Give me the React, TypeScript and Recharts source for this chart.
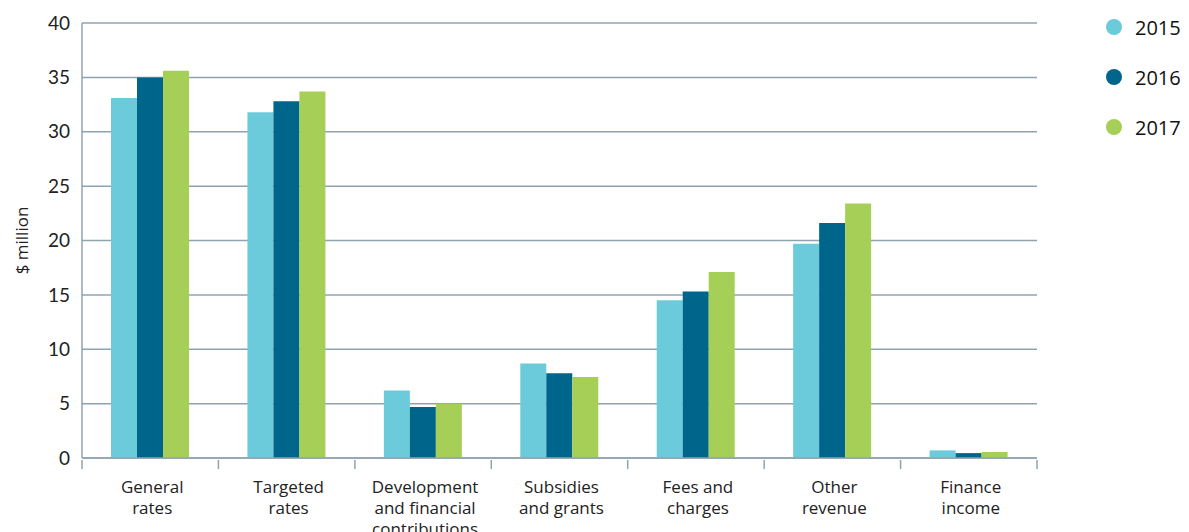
import { BarChart, Bar, XAxis, YAxis, CartesianGrid, Legend, Label } from "recharts";

const categories = [
  "General\nrates",
  "Targeted\nrates",
  "Development\nand financial\ncontributions",
  "Subsidies\nand grants",
  "Fees and\ncharges",
  "Other\nrevenue",
  "Finance\nincome",
];
const values2015 = [33.1, 31.8, 6.2, 8.7, 14.5, 19.7, 0.7];
const values2016 = [35.0, 32.8, 4.7, 7.8, 15.3, 21.6, 0.45];
const values2017 = [35.6, 33.7, 5.0, 7.45, 17.1, 23.4, 0.55];
const yTicks = [0, 5, 10, 15, 20, 25, 30, 35, 40];

const series = [
  { key: "2015", color: "#6ccbdb", values: values2015 },
  { key: "2016", color: "#00658a", values: values2016 },
  { key: "2017", color: "#a6cf57", values: values2017 },
];

const data = categories.map((name, i) => {
  const row: Record<string, string | number> = { name };
  series.forEach((s) => (row[s.key] = s.values[i]));
  return row;
});

const W = 1181;
const H = 524;
const margin = { top: 15, right: 152, bottom: 0, left: 20 };
const yAxisWidth = 54;
const band = (W - margin.left - margin.right - yAxisWidth) / categories.length;
const gridColor = "#8fa3af";
const font = "Lato, 'Noto Sans', sans-serif";
const labelFont = "'Open Sans', 'Noto Sans', sans-serif";

const CategoryTick = (props: any) => {
  const { x, y, payload, index } = props;
  const lines = String(payload.value).split("\n");
  return (
    <g>
      <line x1={x - band / 2} x2={x - band / 2} y1={y} y2={y + 9} stroke={gridColor} strokeWidth={1.5} />
      {index === categories.length - 1 && (
        <line x1={x + band / 2} x2={x + band / 2} y1={y} y2={y + 9} stroke={gridColor} strokeWidth={1.5} />
      )}
      <text x={x + 2} y={y + 33} textAnchor="middle" fontSize={17} fill="#222" fontFamily={labelFont}>
        {lines.map((l, i) => (
          <tspan key={i} x={x + 2} dy={i === 0 ? 0 : 21}>
            {l}
          </tspan>
        ))}
      </text>
    </g>
  );
};

const YLabel = (props: any) => {
  const vb = props.viewBox || { x: 20, y: 15, width: 54, height: 435 };
  const cx = vb.x - 7;
  const cy = vb.y + vb.height / 2;
  return (
    <text
      x={cx}
      y={cy}
      transform={`rotate(-90 ${cx} ${cy})`}
      textAnchor="middle"
      dominantBaseline="central"
      fontSize={17}
      fill="#222"
      fontFamily={labelFont}
    >
      $ million
    </text>
  );
};

const LegendContent = () => (
  <div style={{ fontFamily: "'Open Sans', sans-serif", fontSize: 20, color: "#111" }}>
    {series.map((s) => (
      <div key={s.key} style={{ display: "flex", alignItems: "center", height: 50 }}>
        <span
          style={{
            width: 16,
            height: 16,
            borderRadius: 8,
            background: s.color,
            display: "inline-block",
            marginRight: 13,
          }}
        />
        {s.key}
      </div>
    ))}
  </div>
);

export default function App() {
  return (
    <BarChart width={W} height={H} data={data} margin={margin} barGap={0} barSize={26}>
      <CartesianGrid vertical={false} stroke={gridColor} strokeWidth={1.5} />
      <XAxis
        dataKey="name"
        interval={0}
        height={74}
        tickLine={false}
        tickSize={0}
        axisLine={{ stroke: gridColor, strokeWidth: 1.5 }}
        tick={<CategoryTick />}
      />
      <YAxis
        domain={[0, 40]}
        ticks={yTicks}
        width={yAxisWidth}
        tickLine={false}
        tickSize={0}
        tickMargin={12}
        axisLine={{ stroke: gridColor, strokeWidth: 1.5 }}
        tick={{ fontSize: 19, fill: "#222", fontFamily: font }}
      >
        <Label content={<YLabel />} />
      </YAxis>
      <Legend
        layout="vertical"
        align="center"
        verticalAlign="middle"
        content={<LegendContent />}
        wrapperStyle={{ left: 1098, top: -6, width: 90 }}
      />
      {series.map((s) => (
        <Bar key={s.key} dataKey={s.key} fill={s.color} isAnimationActive={false} />
      ))}
    </BarChart>
  );
}
